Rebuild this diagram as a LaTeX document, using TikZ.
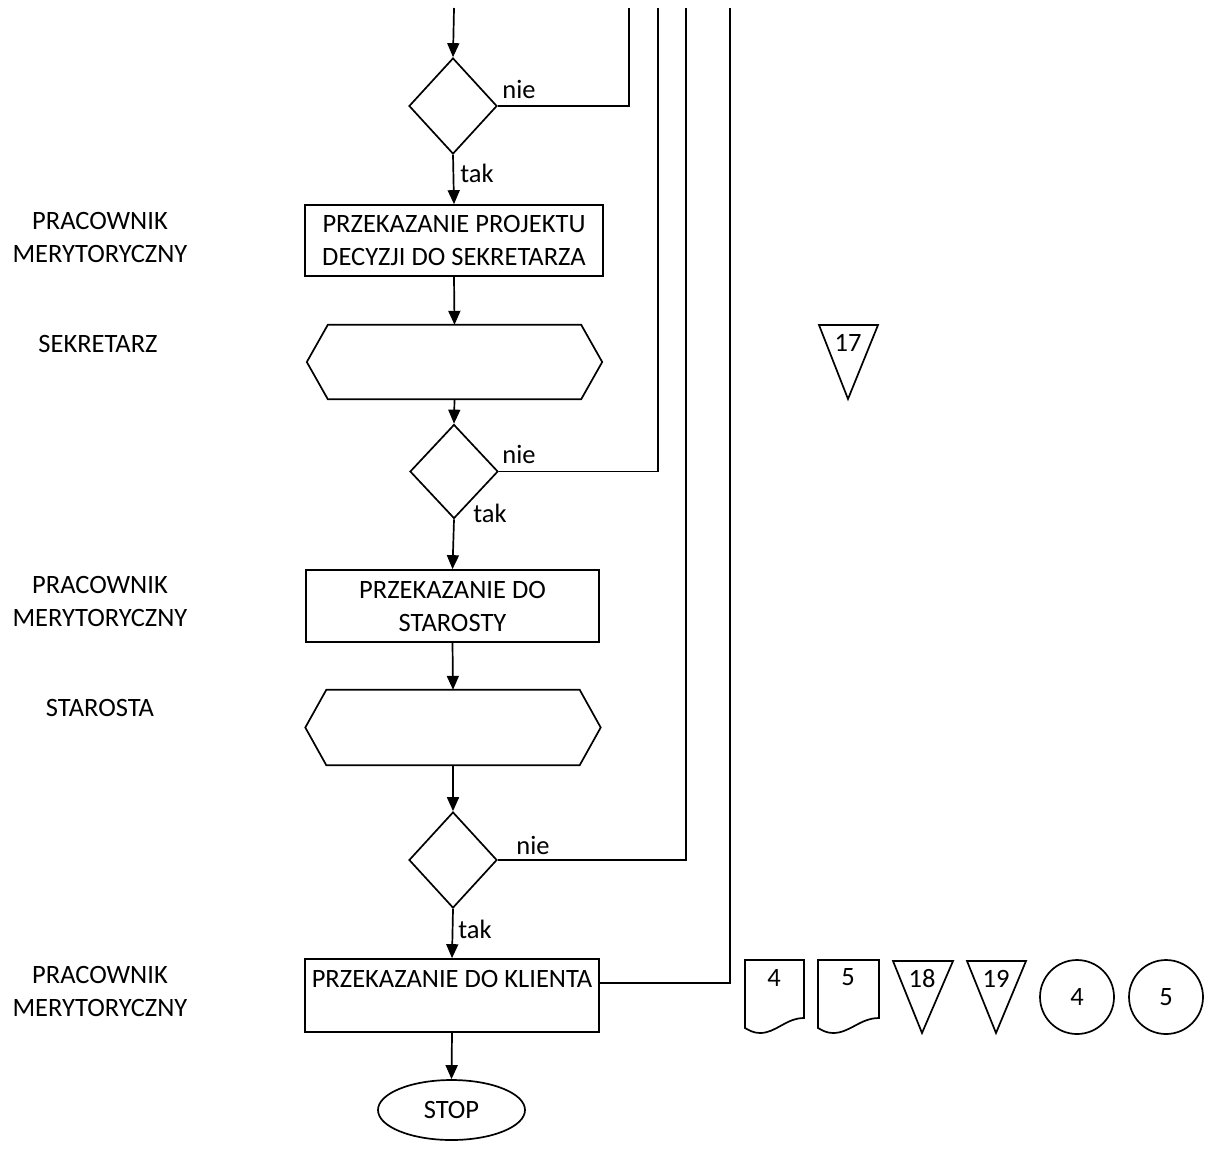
\documentclass[tikz,border=0pt]{standalone}
\usepackage{fontspec}
\setmainfont{Carlito}
\usetikzlibrary{positioning,arrows.meta,calc,shapes.geometric}

\tikzset{
  flowbox/.style={draw, line width=1.7pt, minimum width=296pt, minimum height=72pt, align=center, inner sep=2pt},
  decision/.style={draw, diamond, line width=1.7pt, minimum width=88pt, minimum height=96pt, inner sep=0pt},
  hexframe/.style={minimum width=295pt, minimum height=74pt, inner sep=0pt},
  rolelabel/.style={align=center},
  arr/.style={-{Triangle[length=14pt,width=12pt]}, line width=1.7pt},
  conn/.style={line width=1.7pt},
  shapeline/.style={line width=1.7pt},
}

\begin{document}
\begin{tikzpicture}[x=1pt, y=-1pt, font=\fontsize{26.5}{33}\selectfont]
  \useasboundingbox (0,0) rectangle (1209,1152);

  % main column
  \coordinate (start) at (454,8);
  \node[decision] (d1) at (453,106) {};
  \node[flowbox, minimum width=298pt, minimum height=71pt] (box1) at (454,240.5) {PRZEKAZANIE PROJEKTU\\DECYZJI DO SEKRETARZA};
  \node[hexframe] (hex1) at (454.5,362) {};
  \node[decision, minimum height=94pt] (d2) at (454,471.5) {};
  \node[flowbox, minimum width=293pt] (box2) at (452.5,606) {PRZEKAZANIE DO\\STAROSTY};
  \node[hexframe, minimum height=75pt] (hex2) at (453,727.5) {};
  \node[decision] (d3) at (453,860) {};
  \node[flowbox, minimum width=294pt, minimum height=73pt] (box3) at (452,995.5) {PRZEKAZANIE DO KLIENTA\\\mbox{}};
  \node[draw, ellipse, line width=1.7pt, minimum width=147pt, minimum height=60pt, inner sep=0pt] (stop) at (451.5,1110) {STOP};

  % hexagons
  \draw[shapeline] (hex1.west) -- ([xshift=21pt]hex1.north west) -- ([xshift=-21pt]hex1.north east)
    -- (hex1.east) -- ([xshift=-21pt]hex1.south east) -- ([xshift=21pt]hex1.south west) -- cycle;
  \draw[shapeline] (hex2.west) -- ([xshift=21pt]hex2.north west) -- ([xshift=-21pt]hex2.north east)
    -- (hex2.east) -- ([xshift=-21pt]hex2.south east) -- ([xshift=21pt]hex2.south west) -- cycle;

  % arrows
  \draw[arr] (start) -- (d1.north);
  \draw[arr] (d1.south) -- (box1.north);
  \draw[arr] (box1.south) -- (hex1.north);
  \draw[arr] (hex1.south) -- (d2.north);
  \draw[arr] (d2.south) -- (box2.north);
  \draw[arr] (box2.south) -- (hex2.north);
  \draw[arr] (hex2.south) -- (d3.north);
  \draw[arr] (d3.south) -- (box3.north);
  \draw[arr] (box3.south) -- (stop.north);

  % return lines
  \coordinate (top1) at (629,8);
  \coordinate (top2) at (658,8);
  \coordinate (top3) at (686,8);
  \coordinate (top4) at (730,8);
  \draw[conn] (d1.east) -| (top1);
  \draw[conn] (d2.east) -| (top2);
  \draw[conn] (d3.east) -| (top3);
  \draw[conn] ([yshift=12.5pt]box3.east) -| (top4);

  % branch labels
  \node (nie1) at (519,89) {nie};
  \node (tak1) at (477,173) {tak};
  \node (nie2) at (519,454) {nie};
  \node (tak2) at (490,513) {tak};
  \node (nie3) at (533,845) {nie};
  \node (tak3) at (475,929) {tak};

  % roles
  \node[rolelabel] (role1) at (100,237) {PRACOWNIK\\MERYTORYCZNY};
  \node[rolelabel] (role2) at (98,344) {SEKRETARZ};
  \node[rolelabel] (role3) at (100,601) {PRACOWNIK\\MERYTORYCZNY};
  \node[rolelabel] (role4) at (100,708) {STAROSTA};
  \node[rolelabel] (role5) at (100,991) {PRACOWNIK\\MERYTORYCZNY};

  % symbols
  \draw[shapeline] (819,325) -- (878,325) -- (848,399) -- cycle;
  \node (t17) at (848,343) {17};
  \draw[shapeline] (745,960) -- (804,960) -- (804,1018) .. controls (786,1018) and (776,1033) .. (760,1033)
    .. controls (753,1033) and (749,1030) .. (745,1028) -- cycle;
  \node (doc4) at (774,978) {4};
  \draw[shapeline] (818,960) -- (879,960) -- (879,1018) .. controls (860,1018) and (850,1033) .. (833,1033)
    .. controls (826,1033) and (822,1030) .. (818,1028) -- cycle;
  \node (doc5) at (848,977) {5};
  \draw[shapeline] (893,961) -- (953,961) -- (922,1033) -- cycle;
  \node (t18) at (922,979) {18};
  \draw[shapeline] (967,961) -- (1026,961) -- (996,1033) -- cycle;
  \node (t19) at (996,979) {19};
  \node[draw, circle, shapeline, minimum size=74pt, inner sep=0pt] (c4) at (1077,997) {4};
  \node[draw, circle, shapeline, minimum size=74pt, inner sep=0pt] (c5) at (1166,997) {5};
\end{tikzpicture}
\end{document}
